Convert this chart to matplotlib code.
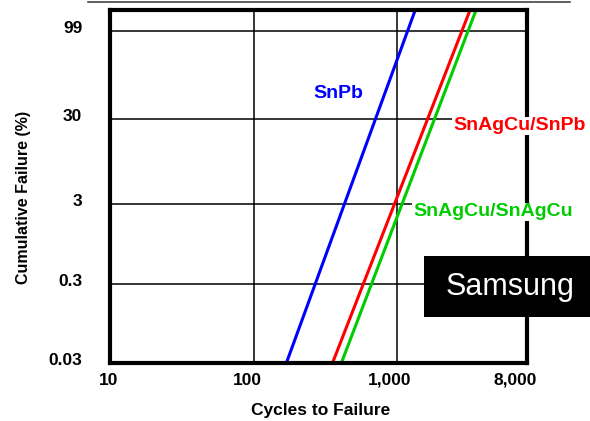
import numpy as np
import matplotlib
matplotlib.use("Agg")
import matplotlib.pyplot as plt
from matplotlib.lines import Line2D
from matplotlib.patches import Rectangle
from matplotlib.transforms import ScaledTranslation

plt.rcParams["font.family"] = ["Liberation Sans", "DejaVu Sans"]

# Weibull fit lines: cycles to failure at the bottom and top of the probability range
fail_pct = [0.03, 99.98]
snpb_cycles = [169, 1334]
snagcu_snpb_cycles = [354, 3213]
snagcu_snagcu_cycles = [408, 3537]

series_names = ["SnPb", "SnAgCu/SnPb", "SnAgCu/SnAgCu"]
series_cycles = [snpb_cycles, snagcu_snpb_cycles, snagcu_snagcu_cycles]
series_colors = ["#0000ff", "#ff0000", "#00cc00"]

x_ticks = [10, 100, 1000, 8000]
x_ticklabels = ["10", "100", "1,000", "8,000"]
y_ticks = [0.03, 0.3, 3, 30, 99]
y_ticklabels = ["0.03", "0.3", "3", "30", "99"]


def weibull_fwd(p):
    p = np.asarray(p, dtype=float)
    with np.errstate(divide="ignore", invalid="ignore"):
        return np.log(-np.log1p(-p / 100.0))


def weibull_inv(w):
    w = np.asarray(w, dtype=float)
    return 100.0 * (-np.expm1(-np.exp(w)))


fig = plt.figure(figsize=(5.9, 4.21), dpi=100)
ax = fig.add_axes([110 / 590, 1 - 363 / 421, 417 / 590, 353 / 421])

ax.set_xscale("log")
ax.set_yscale("function", functions=(weibull_fwd, weibull_inv))
ax.set_xlim(10, 8000)
ax.set_ylim(0.03, 99.98)

for name, cyc, col in zip(series_names, series_cycles, series_colors):
    ax.plot(cyc, fail_pct, color=col, lw=2.2, solid_capstyle="butt", zorder=2)

ax.set_xticks(x_ticks)
ax.set_xticklabels(x_ticklabels)
ax.set_yticks(y_ticks)
ax.set_yticklabels(y_ticklabels)
ax.xaxis.set_minor_locator(matplotlib.ticker.NullLocator())
ax.yaxis.set_minor_locator(matplotlib.ticker.NullLocator())
ax.tick_params(axis="both", length=0, labelsize=12.5)
ax.tick_params(axis="x", pad=7)
ax.tick_params(axis="y", pad=20)
for lab in ax.get_xticklabels() + ax.get_yticklabels():
    lab.set_fontweight("bold")
for lab in ax.get_yticklabels():
    lab.set_transform(lab.get_transform() + ScaledTranslation(0, 4 / 100, fig.dpi_scale_trans))
# nudge the x labels slightly left of their gridlines
for lab, dx in zip(ax.get_xticklabels(), [-1, -6, -8, -12]):
    lab.set_transform(lab.get_transform() + ScaledTranslation(dx / 100, 0, fig.dpi_scale_trans))

ax.grid(True, color="black", lw=1.1, zorder=1)
ax.set_axisbelow(True)
for sp in ax.spines.values():
    sp.set_linewidth(3)

# series labels with white backing so they sit over grid and frame
lab_kw = dict(fontsize=14, fontweight="bold", transform=fig.transFigure, ha="left", va="center",
              bbox=dict(facecolor="white", edgecolor="none", pad=0.5), zorder=5)
fig.text(313 / 590, 1 - 93 / 421, "SnPb", color=series_colors[0], **lab_kw)
fig.text(453 / 590, 1 - 126 / 421, "SnAgCu/SnPb", color=series_colors[1], **lab_kw)
fig.text(413 / 590, 1 - 212 / 421, "SnAgCu/SnAgCu", color=series_colors[2], **lab_kw)

# company tag box
fig.patches.append(Rectangle((424 / 590, 1 - 317 / 421), 166 / 590, 61 / 421,
                             transform=fig.transFigure, facecolor="black", edgecolor="none", zorder=6))
fig.text(510 / 590, 1 - 287 / 421, "Samsung", color="white", fontsize=22, ha="center", va="center", zorder=7)

fig.text(24 / 590, 1 - 197 / 421, "Cumulative Failure (%)", rotation=90, fontsize=11.5,
         fontweight="bold", ha="center", va="center")
fig.text(321 / 590, 1 - 410 / 421, "Cycles to Failure", fontsize=12.5, fontweight="bold",
         ha="center", va="center")

# thin rule along the top edge
fig.add_artist(Line2D([88 / 590, 570 / 590], [1 - 1.5 / 421, 1 - 1.5 / 421], color="#333333", lw=1.1,
                      transform=fig.transFigure))

fig.savefig("out.png", dpi=100)
